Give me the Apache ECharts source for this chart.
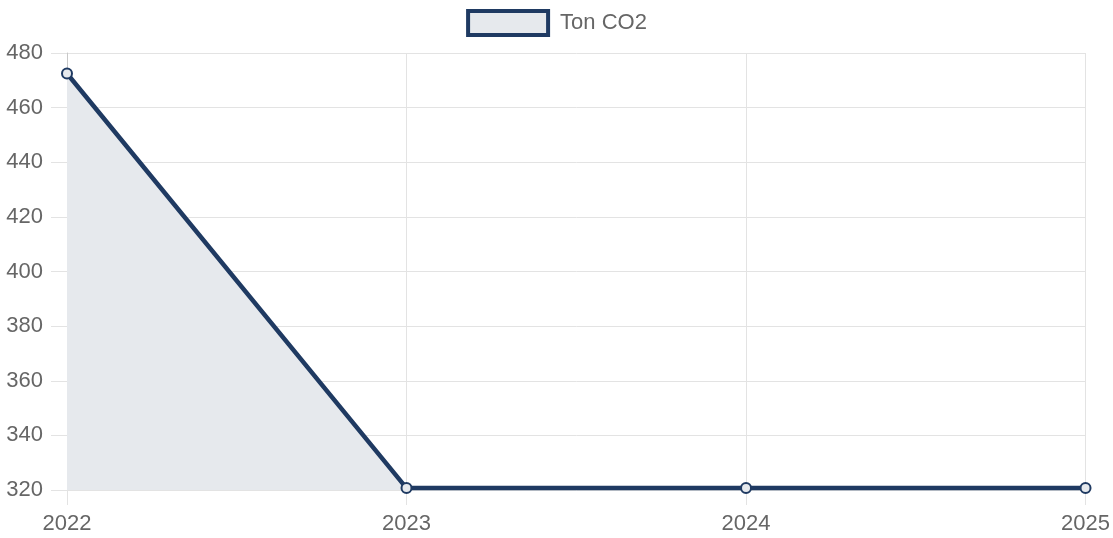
<!DOCTYPE html>
<html>
<head>
<meta charset="utf-8">
<script src="https://cdn.jsdelivr.net/npm/echarts@6/dist/echarts.min.js"></script>
<style>html,body{margin:0;padding:0;background:#fff}#c{width:1113px;height:538px}</style>
</head>
<body>
<div id="c"></div>
<script>
const categories = ['2022', '2023', '2024', '2025'];
const seriesName = 'Ton CO2';
const values = [472.5, 320.7, 320.7, 320.7];
const yMin = 320, yMax = 480, yStep = 20;

const navy = '#1f3a62';
const fill = '#e6e9ed';
const grid = '#e3e3e3';
const font = 'Liberation Sans, Arial, sans-serif';

const chart = echarts.init(document.getElementById('c'));
chart.setOption({
  animation: false,
  legend: {
    top: 4,
    left: 'center',
    itemWidth: 80,
    itemHeight: 24,
    data: [{ name: seriesName, icon: 'rect', itemStyle: { color: fill, borderColor: navy, borderWidth: 4 } }],
    textStyle: { color: '#666', fontSize: 22, fontFamily: font, padding: [0, 0, 0, 7] }
  },
  grid: { left: 67, right: 27, top: 53, bottom: 48 },
  xAxis: {
    type: 'category',
    data: categories,
    boundaryGap: false,
    axisLine: { show: false },
    axisTick: { show: true, length: 15, lineStyle: { color: grid } },
    splitLine: { show: true, lineStyle: { color: grid, width: 1 } },
    axisLabel: { color: '#666', fontSize: 22, fontFamily: font, margin: 23 }
  },
  yAxis: {
    type: 'value',
    min: yMin, max: yMax, interval: yStep,
    axisLine: { show: true, lineStyle: { color: '#c8c8c8' } },
    axisTick: { show: true, length: 16, lineStyle: { color: grid } },
    splitLine: { show: true, lineStyle: { color: grid } },
    axisLabel: { color: '#666', fontSize: 22, fontFamily: font, margin: 24 }
  },
  series: [{
    name: seriesName,
    type: 'line',
    data: values,
    symbol: 'circle',
    symbolSize: 10,
    itemStyle: { color: fill, borderColor: navy, borderWidth: 2 },
    lineStyle: { color: navy, width: 4.5 },
    areaStyle: { color: fill, opacity: 1, origin: 'start' },
    z: 3
  }]
});
</script>
</body>
</html>
